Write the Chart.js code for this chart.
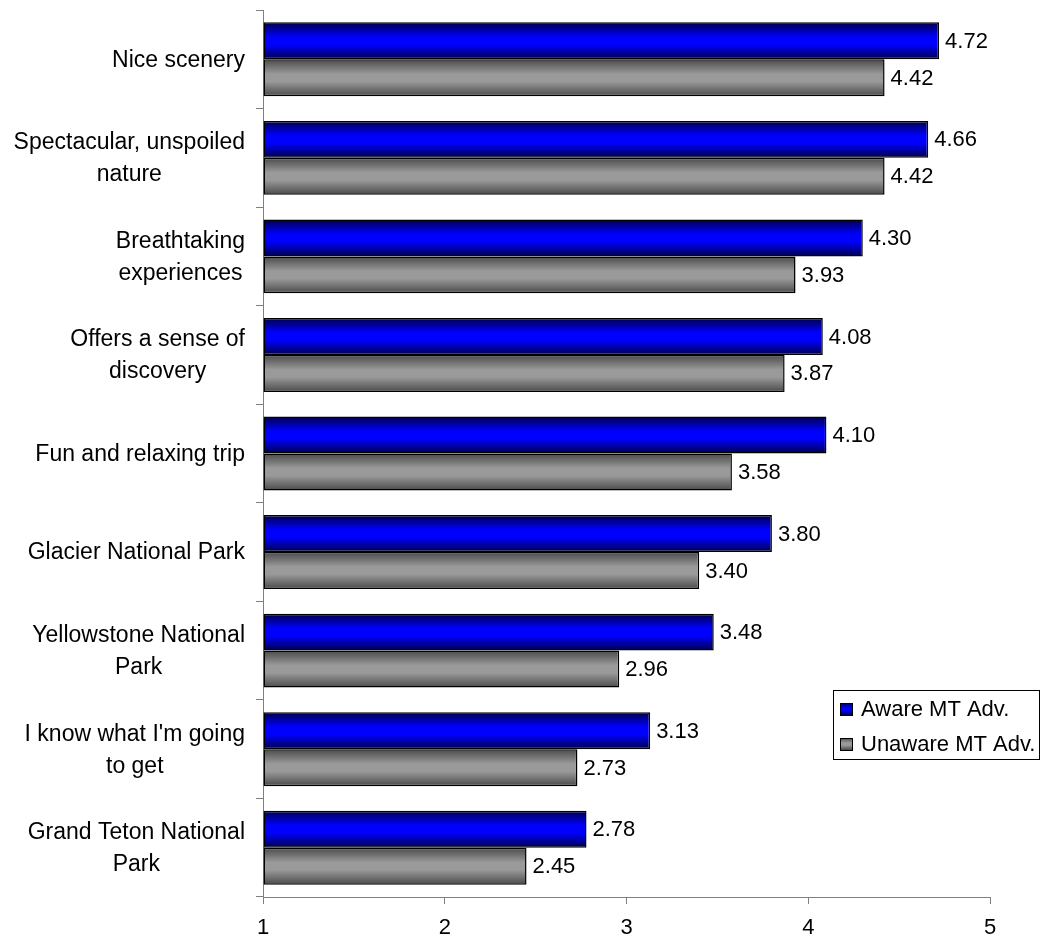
<!DOCTYPE html>
<html>
<head>
<meta charset="utf-8">
<script src="https://cdn.jsdelivr.net/npm/chart.js@4/dist/chart.umd.min.js"></script>
<style>
  html, body { margin: 0; padding: 0; background: #fff; }
  #wrap { width: 1040px; height: 937px; position: relative; }
</style>
</head>
<body>
<div id="wrap"><canvas id="chart"></canvas></div>
<script>
const categories = [
  'Nice scenery',
  ['Spectacular, unspoiled', 'nature'],
  ['Breathtaking', 'experiences'],
  ['Offers a sense of', 'discovery'],
  'Fun and relaxing trip',
  'Glacier National Park',
  ['Yellowstone National', 'Park'],
  ["I know what I'm going", 'to get'],
  ['Grand Teton National', 'Park']
];
const awareValues = [4.72, 4.66, 4.30, 4.08, 4.10, 3.80, 3.48, 3.13, 2.78];
const unawareValues = [4.42, 4.42, 3.93, 3.87, 3.58, 3.40, 2.96, 2.73, 2.45];
const seriesNames = ['Aware MT Adv.', 'Unaware MT Adv.'];
const xTicks = [1, 2, 3, 4, 5];

const FONT = '"Liberation Sans", Arial, sans-serif';
const catPct = 0.75;

// colour stops: edge, centre
const palette = [
  { edge: '#00004a', mid: '#0000ff' },
  { edge: '#4a4a4a', mid: '#9a9a9a' }
];

function barGradient(ctx, top, h, p) {
  const g = ctx.createLinearGradient(0, top, 0, top + h);
  g.addColorStop(0, p.edge);
  g.addColorStop(0.4, p.mid);
  g.addColorStop(0.6, p.mid);
  g.addColorStop(1, p.edge);
  return g;
}

function fillFor(dsIndex) {
  return (c) => {
    const chart = c.chart;
    const ys = chart.scales.y;
    if (!ys || !chart.chartArea) return palette[dsIndex].mid;
    const catH = ys.height / categories.length;
    const barH = catH * catPct / 2;
    const center = ys.getPixelForValue(c.dataIndex);
    const top = dsIndex === 0 ? center - barH : center;
    return barGradient(chart.ctx, top, barH, palette[dsIndex]);
  };
}

// category labels: block right-aligned to the axis, lines centred inside the block
const categoryLabels = {
  id: 'categoryLabels',
  afterDraw(chart) {
    const ctx = chart.ctx;
    const ys = chart.scales.y;
    const right = ys.right - 7 - 11;
    const lh = 32;
    ctx.save();
    ctx.font = '23px ' + FONT;
    ctx.fillStyle = '#000';
    ctx.textAlign = 'center';
    ctx.textBaseline = 'middle';
    categories.forEach((lab, i) => {
      const lines = Array.isArray(lab) ? lab : [lab];
      const w = Math.max(...lines.map(s => ctx.measureText(s).width));
      const cx = right - w / 2;
      const cy = ys.getPixelForValue(i);
      lines.forEach((s, k) => {
        ctx.fillText(s, cx, cy + (k - (lines.length - 1) / 2) * lh + 1);
      });
    });
    ctx.restore();
  }
};

const valueLabels = {
  id: 'valueLabels',
  afterDatasetsDraw(chart) {
    const ctx = chart.ctx;
    ctx.save();
    ctx.font = '22px ' + FONT;
    ctx.fillStyle = '#000';
    ctx.textAlign = 'left';
    ctx.textBaseline = 'middle';
    chart.data.datasets.forEach((ds, i) => {
      chart.getDatasetMeta(i).data.forEach((bar, j) => {
        ctx.fillText(ds.data[j].toFixed(2), bar.x + 6, bar.y + 1);
      });
    });
    ctx.restore();
  }
};

const boxLegend = {
  id: 'boxLegend',
  afterDraw(chart) {
    const ctx = chart.ctx;
    const x = 833.5, y = 690.5, w = 206, h = 69;
    ctx.save();
    ctx.fillStyle = '#fff';
    ctx.fillRect(x, y, w, h);
    ctx.strokeStyle = '#000';
    ctx.lineWidth = 1;
    ctx.strokeRect(x, y, w, h);
    ctx.font = '22px ' + FONT;
    ctx.textBaseline = 'middle';
    ctx.textAlign = 'left';
    seriesNames.forEach((name, i) => {
      const cy = 709 + i * 35;
      const sy = cy - 6;
      ctx.fillStyle = barGradient(ctx, sy, 12, palette[i]);
      ctx.fillRect(840, sy, 12, 12);
      ctx.strokeStyle = '#000';
      ctx.lineWidth = 1;
      ctx.strokeRect(840.5, sy + 0.5, 12, 12);
      ctx.fillStyle = '#000';
      ctx.fillText(name, 861, cy + 1);
    });
    ctx.restore();
  }
};

new Chart(document.getElementById('chart'), {
  type: 'bar',
  data: {
    labels: categories,
    datasets: [
      {
        label: seriesNames[0],
        data: awareValues,
        backgroundColor: fillFor(0),
        borderColor: '#000',
        borderWidth: 1.5,
        borderSkipped: false,
        base: 1,
        barPercentage: 1,
        categoryPercentage: catPct
      },
      {
        label: seriesNames[1],
        data: unawareValues,
        backgroundColor: fillFor(1),
        borderColor: '#000',
        borderWidth: 1.5,
        borderSkipped: false,
        base: 1,
        barPercentage: 1,
        categoryPercentage: catPct
      }
    ]
  },
  options: {
    indexAxis: 'y',
    responsive: true,
    maintainAspectRatio: false,
    animation: false,
    layout: { padding: { top: 10, right: 50, left: 0, bottom: 0 } },
    plugins: {
      legend: { display: false },
      tooltip: { enabled: false }
    },
    scales: {
      x: {
        min: 1,
        max: 5,
        afterBuildTicks(axis) { axis.ticks = xTicks.map(v => ({ value: v })); },
        afterFit(axis) {
          axis.height = 40;
          axis.paddingRight = 0;
        },
        grid: { drawOnChartArea: false, tickLength: 7, color: '#808080', lineWidth: 1 },
        border: { color: '#808080', width: 1 },
        ticks: { color: '#000', font: { family: FONT, size: 22 }, padding: 11, maxRotation: 0 }
      },
      y: {
        afterFit(axis) {
          axis.width = 263;
          axis.paddingTop = 0;
          axis.paddingBottom = 0;
        },
        grid: { drawOnChartArea: false, tickLength: 7, color: '#808080', offset: true },
        border: { color: '#808080', width: 1 },
        ticks: { display: false }
      }
    }
  },
  plugins: [valueLabels, categoryLabels, boxLegend]
});
</script>
</body>
</html>
